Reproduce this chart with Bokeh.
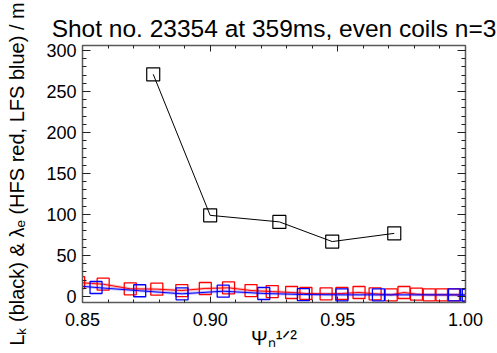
from bokeh.plotting import figure
from bokeh.models import (LinearAxis, SingleIntervalTicker, PrintfTickFormatter,
                          CustomJSTickFormatter, Range1d)
from bokeh.embed import file_html
from bokeh.resources import INLINE

# ---------------- data ----------------
black_x = [0.8777, 0.9000, 0.9271, 0.9478, 0.9721]
black_y = [271, 99, 91, 67, 77]

red_x = [0.8485, 0.8581, 0.8687, 0.8791, 0.8889, 0.8981, 0.9072, 0.9160, 0.9243,
         0.9319, 0.9375, 0.9454, 0.9516, 0.9583, 0.9646, 0.9709, 0.9759, 0.9808,
         0.9858, 0.9908, 0.9953, 1.0004]
red_y = [17, 15, 9.4, 9, 7.3, 9.8, 10.6, 7.3, 6, 4.9, 3.7, 3.3, 3.7, 4.9, 3.3, 2,
         4.9, 2.8, 2, 2, 2, 2]

blue_x = [0.8440, 0.8553, 0.8724, 0.8890, 0.9051, 0.9210, 0.9365, 0.9516, 0.9659,
          0.9957, 1.0011]
blue_y = [14, 11, 7, 3.3, 6.5, 3.7, 2.4, 2, 2, 2, 1.5]

title_text = "Shot no. 23354 at 359ms, even coils n=3"
x_label = "Ψₙ¹ᐟ²"
y_label = "Lₖ (black) & λₑ (HFS red, LFS blue) / m"
x_ticks_interval = 0.05
y_ticks_interval = 50

# ---------------- layout ----------------
W, H = 497, 353
FL, FR, FT, FB = 82, 465, 45, 302          # frame edges in canvas px
X0, X1 = 0.85, 1.00
Y0, Y1 = -7.3, 306.1
FONT = "Liberation Sans"

p = figure(width=W, height=H, x_range=Range1d(X0, X1), y_range=Range1d(Y0, Y1),
           output_backend="svg", toolbar_location=None,
           min_border_left=FL, min_border_right=W - FR,
           min_border_top=FT, min_border_bottom=H - FB)
p.xgrid.visible = False
p.ygrid.visible = False
p.outline_line_color = None
p.background_fill_color = "white"
p.border_fill_color = "white"

top = LinearAxis()
right = LinearAxis()
p.add_layout(top, "above")
p.add_layout(right, "right")


def style(ax, major, minor, interval, labels, fmt=None):
    ax.ticker = SingleIntervalTicker(interval=interval, num_minor_ticks=5)
    ax.major_tick_in = major
    ax.major_tick_out = 0
    ax.minor_tick_in = minor
    ax.minor_tick_out = 0
    ax.axis_line_color = "#5a5a5a"
    ax.axis_line_width = 1.5
    ax.major_tick_line_color = "#222222"
    ax.minor_tick_line_color = "#222222"
    ax.major_tick_line_width = 1
    ax.minor_tick_line_width = 1
    ax.axis_label_text_font = FONT
    ax.axis_label_text_font_style = "normal"
    ax.axis_label_text_color = "black"
    if labels:
        ax.major_label_text_font = FONT
        ax.major_label_text_font_size = "18px"
        ax.major_label_text_color = "black"
        if fmt is not None:
            ax.formatter = fmt
    else:
        ax.formatter = CustomJSTickFormatter(code="return ''")
        ax.major_label_standoff = 0


xaxis = p.below[0]
yaxis = p.left[0]
style(xaxis, 6, 3, x_ticks_interval, True, PrintfTickFormatter(format="%.2f"))
xaxis.major_label_standoff = 10
xaxis.axis_label = x_label
xaxis.axis_label_text_font_size = "20px"
xaxis.axis_label_standoff = -2

style(yaxis, 8, 4, y_ticks_interval, True)
yaxis.major_label_standoff = 6
yaxis.axis_label = y_label
yaxis.axis_label_text_font_size = "20px"
yaxis.axis_label_standoff = 15

style(top, 6, 3, x_ticks_interval, False)
top.axis_label = title_text
top.axis_label_text_font_size = "24.5px"
top.axis_label_standoff = 4

style(right, 8, 4, y_ticks_interval, False)

# ---------------- glyphs ----------------
for xs, ys, col in ((red_x, red_y, "red"), (blue_x, blue_y, "blue")):
    p.line(xs, ys, line_color=col, line_width=3, line_alpha=0.25)
    p.line(xs, ys, line_color=col, line_width=1)
    p.scatter(xs, ys, marker="square", size=12, fill_color=None,
              line_color=col, line_width=1.3)
p.line(black_x, black_y, line_color="black", line_width=1)
p.scatter(black_x, black_y, marker="square", size=13, fill_color=None,
          line_color="black", line_width=1.2)

open("out.html", "w").write(file_html(p, INLINE))
